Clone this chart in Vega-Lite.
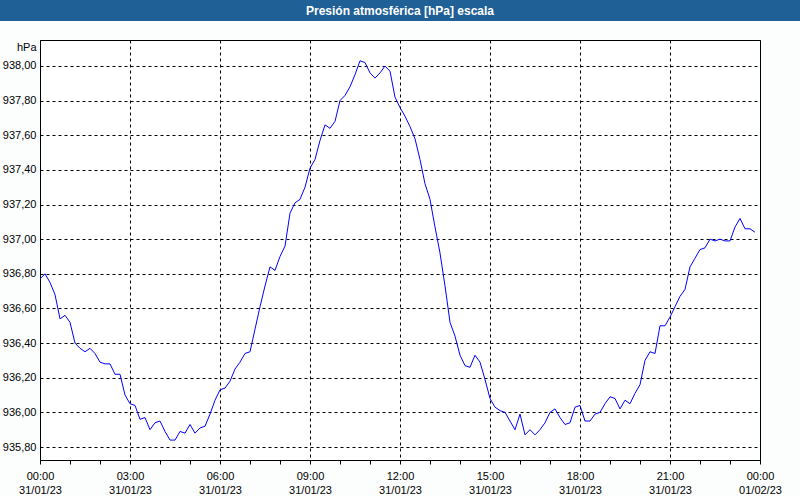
{
  "$schema": "https://vega.github.io/schema/vega-lite/v6.json",
  "padding": 0,
  "autosize": {"type": "pad"},
  "background": "#fcfdfd",
  "spacing": 19,
  "bounds": "flush",
  "center": true,
  "config": {"view": {"stroke": null}, "font": "Liberation Sans"},
  "vconcat": [
    {
      "width": 800,
      "height": 21,
      "view": {"fill": "#1f6096", "stroke": null},
      "data": {"values": [{"title": "Presión atmosférica [hPa] escala"}]},
      "mark": {"type": "text", "color": "white", "font": "Liberation Sans", "fontWeight": "bold", "fontSize": 12, "align": "center", "baseline": "middle"},
      "encoding": {"text": {"field": "title"}}
    },
    {
      "width": 720,
      "height": 420,
      "view": {"fill": "white", "stroke": "black", "strokeWidth": 1},
      "data": {"values": [
        {"t": "2023-01-31T00:00:00Z", "p": 936.77},
        {"t": "2023-01-31T00:10:00Z", "p": 936.80},
        {"t": "2023-01-31T00:20:00Z", "p": 936.75},
        {"t": "2023-01-31T00:30:00Z", "p": 936.68},
        {"t": "2023-01-31T00:40:00Z", "p": 936.54},
        {"t": "2023-01-31T00:50:00Z", "p": 936.56},
        {"t": "2023-01-31T01:00:00Z", "p": 936.52},
        {"t": "2023-01-31T01:10:00Z", "p": 936.40},
        {"t": "2023-01-31T01:20:00Z", "p": 936.37},
        {"t": "2023-01-31T01:30:00Z", "p": 936.35},
        {"t": "2023-01-31T01:40:00Z", "p": 936.37},
        {"t": "2023-01-31T01:50:00Z", "p": 936.34},
        {"t": "2023-01-31T02:00:00Z", "p": 936.29},
        {"t": "2023-01-31T02:10:00Z", "p": 936.28},
        {"t": "2023-01-31T02:20:00Z", "p": 936.28},
        {"t": "2023-01-31T02:30:00Z", "p": 936.22},
        {"t": "2023-01-31T02:40:00Z", "p": 936.22},
        {"t": "2023-01-31T02:50:00Z", "p": 936.10},
        {"t": "2023-01-31T03:00:00Z", "p": 936.05},
        {"t": "2023-01-31T03:10:00Z", "p": 936.04},
        {"t": "2023-01-31T03:20:00Z", "p": 935.96},
        {"t": "2023-01-31T03:30:00Z", "p": 935.97},
        {"t": "2023-01-31T03:40:00Z", "p": 935.90},
        {"t": "2023-01-31T03:50:00Z", "p": 935.94},
        {"t": "2023-01-31T04:00:00Z", "p": 935.95},
        {"t": "2023-01-31T04:10:00Z", "p": 935.89},
        {"t": "2023-01-31T04:20:00Z", "p": 935.84},
        {"t": "2023-01-31T04:30:00Z", "p": 935.84},
        {"t": "2023-01-31T04:40:00Z", "p": 935.89},
        {"t": "2023-01-31T04:50:00Z", "p": 935.88},
        {"t": "2023-01-31T05:00:00Z", "p": 935.93},
        {"t": "2023-01-31T05:10:00Z", "p": 935.88},
        {"t": "2023-01-31T05:20:00Z", "p": 935.91},
        {"t": "2023-01-31T05:30:00Z", "p": 935.92},
        {"t": "2023-01-31T05:40:00Z", "p": 935.99},
        {"t": "2023-01-31T05:50:00Z", "p": 936.07},
        {"t": "2023-01-31T06:00:00Z", "p": 936.13},
        {"t": "2023-01-31T06:10:00Z", "p": 936.14},
        {"t": "2023-01-31T06:20:00Z", "p": 936.18},
        {"t": "2023-01-31T06:30:00Z", "p": 936.25},
        {"t": "2023-01-31T06:40:00Z", "p": 936.29},
        {"t": "2023-01-31T06:50:00Z", "p": 936.34},
        {"t": "2023-01-31T07:00:00Z", "p": 936.35},
        {"t": "2023-01-31T07:10:00Z", "p": 936.48},
        {"t": "2023-01-31T07:20:00Z", "p": 936.61},
        {"t": "2023-01-31T07:30:00Z", "p": 936.73},
        {"t": "2023-01-31T07:40:00Z", "p": 936.84},
        {"t": "2023-01-31T07:50:00Z", "p": 936.82},
        {"t": "2023-01-31T08:00:00Z", "p": 936.90},
        {"t": "2023-01-31T08:10:00Z", "p": 936.96},
        {"t": "2023-01-31T08:20:00Z", "p": 937.15},
        {"t": "2023-01-31T08:30:00Z", "p": 937.21},
        {"t": "2023-01-31T08:40:00Z", "p": 937.23},
        {"t": "2023-01-31T08:50:00Z", "p": 937.30},
        {"t": "2023-01-31T09:00:00Z", "p": 937.41},
        {"t": "2023-01-31T09:10:00Z", "p": 937.46},
        {"t": "2023-01-31T09:20:00Z", "p": 937.57},
        {"t": "2023-01-31T09:30:00Z", "p": 937.66},
        {"t": "2023-01-31T09:40:00Z", "p": 937.64},
        {"t": "2023-01-31T09:50:00Z", "p": 937.68},
        {"t": "2023-01-31T10:00:00Z", "p": 937.80},
        {"t": "2023-01-31T10:10:00Z", "p": 937.83},
        {"t": "2023-01-31T10:20:00Z", "p": 937.88},
        {"t": "2023-01-31T10:30:00Z", "p": 937.95},
        {"t": "2023-01-31T10:40:00Z", "p": 938.03},
        {"t": "2023-01-31T10:50:00Z", "p": 938.02},
        {"t": "2023-01-31T11:00:00Z", "p": 937.96},
        {"t": "2023-01-31T11:10:00Z", "p": 937.93},
        {"t": "2023-01-31T11:20:00Z", "p": 937.96},
        {"t": "2023-01-31T11:30:00Z", "p": 938.00},
        {"t": "2023-01-31T11:40:00Z", "p": 937.97},
        {"t": "2023-01-31T11:50:00Z", "p": 937.82},
        {"t": "2023-01-31T12:00:00Z", "p": 937.76},
        {"t": "2023-01-31T12:10:00Z", "p": 937.71},
        {"t": "2023-01-31T12:20:00Z", "p": 937.65},
        {"t": "2023-01-31T12:30:00Z", "p": 937.58},
        {"t": "2023-01-31T12:40:00Z", "p": 937.46},
        {"t": "2023-01-31T12:50:00Z", "p": 937.32},
        {"t": "2023-01-31T13:00:00Z", "p": 937.23},
        {"t": "2023-01-31T13:10:00Z", "p": 937.07},
        {"t": "2023-01-31T13:20:00Z", "p": 936.92},
        {"t": "2023-01-31T13:30:00Z", "p": 936.73},
        {"t": "2023-01-31T13:40:00Z", "p": 936.52},
        {"t": "2023-01-31T13:50:00Z", "p": 936.44},
        {"t": "2023-01-31T14:00:00Z", "p": 936.33},
        {"t": "2023-01-31T14:10:00Z", "p": 936.27},
        {"t": "2023-01-31T14:20:00Z", "p": 936.26},
        {"t": "2023-01-31T14:30:00Z", "p": 936.33},
        {"t": "2023-01-31T14:40:00Z", "p": 936.29},
        {"t": "2023-01-31T14:50:00Z", "p": 936.19},
        {"t": "2023-01-31T15:00:00Z", "p": 936.08},
        {"t": "2023-01-31T15:10:00Z", "p": 936.03},
        {"t": "2023-01-31T15:20:00Z", "p": 936.01},
        {"t": "2023-01-31T15:30:00Z", "p": 936.00},
        {"t": "2023-01-31T15:40:00Z", "p": 935.95},
        {"t": "2023-01-31T15:50:00Z", "p": 935.90},
        {"t": "2023-01-31T16:00:00Z", "p": 935.99},
        {"t": "2023-01-31T16:10:00Z", "p": 935.87},
        {"t": "2023-01-31T16:20:00Z", "p": 935.90},
        {"t": "2023-01-31T16:30:00Z", "p": 935.87},
        {"t": "2023-01-31T16:40:00Z", "p": 935.90},
        {"t": "2023-01-31T16:50:00Z", "p": 935.94},
        {"t": "2023-01-31T17:00:00Z", "p": 936.00},
        {"t": "2023-01-31T17:10:00Z", "p": 936.02},
        {"t": "2023-01-31T17:20:00Z", "p": 935.97},
        {"t": "2023-01-31T17:30:00Z", "p": 935.93},
        {"t": "2023-01-31T17:40:00Z", "p": 935.94},
        {"t": "2023-01-31T17:50:00Z", "p": 936.03},
        {"t": "2023-01-31T18:00:00Z", "p": 936.04},
        {"t": "2023-01-31T18:10:00Z", "p": 935.95},
        {"t": "2023-01-31T18:20:00Z", "p": 935.95},
        {"t": "2023-01-31T18:30:00Z", "p": 935.99},
        {"t": "2023-01-31T18:40:00Z", "p": 936.00},
        {"t": "2023-01-31T18:50:00Z", "p": 936.05},
        {"t": "2023-01-31T19:00:00Z", "p": 936.09},
        {"t": "2023-01-31T19:10:00Z", "p": 936.08},
        {"t": "2023-01-31T19:20:00Z", "p": 936.02},
        {"t": "2023-01-31T19:30:00Z", "p": 936.07},
        {"t": "2023-01-31T19:40:00Z", "p": 936.05},
        {"t": "2023-01-31T19:50:00Z", "p": 936.11},
        {"t": "2023-01-31T20:00:00Z", "p": 936.16},
        {"t": "2023-01-31T20:10:00Z", "p": 936.30},
        {"t": "2023-01-31T20:20:00Z", "p": 936.35},
        {"t": "2023-01-31T20:30:00Z", "p": 936.34},
        {"t": "2023-01-31T20:40:00Z", "p": 936.50},
        {"t": "2023-01-31T20:50:00Z", "p": 936.50},
        {"t": "2023-01-31T21:00:00Z", "p": 936.55},
        {"t": "2023-01-31T21:10:00Z", "p": 936.61},
        {"t": "2023-01-31T21:20:00Z", "p": 936.67},
        {"t": "2023-01-31T21:30:00Z", "p": 936.71},
        {"t": "2023-01-31T21:40:00Z", "p": 936.84},
        {"t": "2023-01-31T21:50:00Z", "p": 936.89},
        {"t": "2023-01-31T22:00:00Z", "p": 936.94},
        {"t": "2023-01-31T22:10:00Z", "p": 936.95},
        {"t": "2023-01-31T22:20:00Z", "p": 937.00},
        {"t": "2023-01-31T22:30:00Z", "p": 936.99},
        {"t": "2023-01-31T22:40:00Z", "p": 937.00},
        {"t": "2023-01-31T22:50:00Z", "p": 936.99},
        {"t": "2023-01-31T23:00:00Z", "p": 936.99},
        {"t": "2023-01-31T23:10:00Z", "p": 937.07},
        {"t": "2023-01-31T23:20:00Z", "p": 937.12},
        {"t": "2023-01-31T23:30:00Z", "p": 937.06},
        {"t": "2023-01-31T23:40:00Z", "p": 937.06},
        {"t": "2023-01-31T23:50:00Z", "p": 937.04}
      ]},
      "mark": {"type": "line", "color": "#0000ff", "strokeWidth": 1, "interpolate": "linear"},
      "encoding": {
        "x": {
          "field": "t",
          "type": "temporal",
          "scale": {"type": "utc", "domain": [{"year": 2023, "month": 1, "date": 31, "utc": true}, {"year": 2023, "month": 2, "date": 1, "utc": true}], "nice": false},
          "axis": {
            "title": null,
            "values": [1675123200000, 1675126800000, 1675130400000, 1675134000000, 1675137600000, 1675141200000, 1675144800000, 1675148400000, 1675152000000, 1675155600000, 1675159200000, 1675162800000, 1675166400000, 1675170000000, 1675173600000, 1675177200000, 1675180800000, 1675184400000, 1675188000000, 1675191600000, 1675195200000, 1675198800000, 1675202400000, 1675206000000, 1675209600000],
            "labelExpr": "utchours(datum.value) % 3 === 0 ? [utcFormat(datum.value, '%H:%M'), utcFormat(datum.value, '%d/%m/%y')] : ''",
            "labelFont": "Liberation Sans",
            "labelFontSize": 11,
            "labelColor": "black",
            "labelPadding": 6,
            "labelLineHeight": 14,
            "labelFlush": false,
            "labelOverlap": false,
            "labelBaseline": "top",
            "domain": true,
            "domainColor": "black",
            "domainWidth": 1,
            "ticks": true,
            "tickColor": "black",
            "tickSize": 4,
            "grid": true,
            "gridColor": "black",
            "gridDash": [3, 3],
            "gridWidth": 1,
            "gridOpacity": {"condition": {"test": "utchours(datum.value) % 3 === 0", "value": 1}, "value": 0}
          }
        },
        "y": {
          "field": "p",
          "type": "quantitative",
          "scale": {"domain": [935.725, 938.15], "zero": false, "nice": false},
          "axis": {
            "title": "hPa",
            "titleAngle": 0,
            "titleX": -4,
            "titleY": 7,
            "titleAlign": "right",
            "titleBaseline": "middle",
            "titleFont": "Liberation Sans",
            "titleFontSize": 11,
            "titleFontWeight": "normal",
            "titleColor": "black",
            "values": [935.8, 936.0, 936.2, 936.4, 936.6, 936.8, 937.0, 937.2, 937.4, 937.6, 937.8, 938.0],
            "labelExpr": "replace(format(datum.value, '.2f'), '.', ',')",
            "labelFont": "Liberation Sans",
            "labelFontSize": 11,
            "labelColor": "black",
            "labelPadding": 4,
            "labelFlush": false,
            "labelOverlap": false,
            "domain": true,
            "domainColor": "black",
            "ticks": false,
            "grid": true,
            "gridColor": "black",
            "gridDash": [3, 3],
            "gridWidth": 1
          }
        }
      }
    }
  ]
}
